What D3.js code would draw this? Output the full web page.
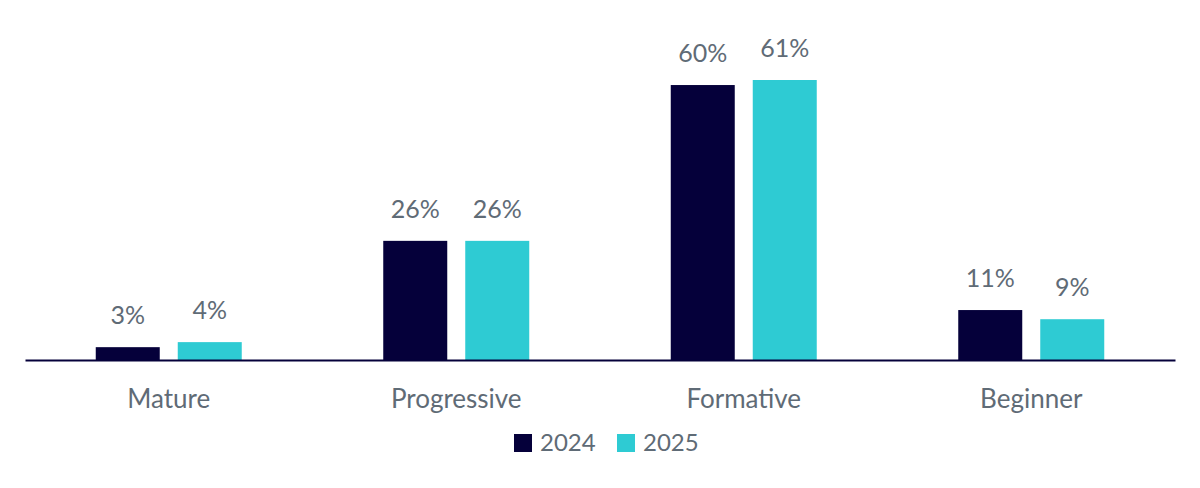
<!DOCTYPE html>
<html>
<head>
<meta charset="utf-8">
<script src="https://cdn.jsdelivr.net/npm/d3@7"></script>
<style>
	body { margin: 0; background: #fff; }
	svg text { font-family: Lato, "Open Sans", sans-serif; fill: #5f6b76; }
</style>
</head>
<body>
<svg id="chart" width="1200" height="488"></svg>
<script>
var categories = ['Mature', 'Progressive', 'Formative', 'Beginner'];
var seriesNames = ['2024', '2025'];
var values2024 = [2.8, 26, 60, 10.9];
var values2025 = [3.9, 26, 61.1, 8.9];
var seriesColors = ['#05003a', '#2ecbd3'];

var svg = d3.select('#chart');
var baseline = 360;

var x = d3.scaleBand()
	.domain(categories)
	.range([25, 1175]);

// pair of bars, 64px wide with an 18px gap
var xInner = d3.scaleBand()
	.domain(seriesNames)
	.range([0, 146])
	.paddingInner(18 / 82);

var y = d3.scaleLinear()
	.domain([0, 61.1])
	.range([baseline, 80]);

var rows = [];
categories.forEach(function (c, i) {
	rows.push({cat: c, series: '2024', value: values2024[i], color: seriesColors[0]});
	rows.push({cat: c, series: '2025', value: values2025[i], color: seriesColors[1]});
});

var groupOffset = (x.bandwidth() - 146) / 2;

svg.append('g')
	.selectAll('rect')
	.data(rows)
	.enter().append('rect')
	.attr('x', function (d) { return x(d.cat) + groupOffset + xInner(d.series); })
	.attr('y', function (d) { return y(d.value); })
	.attr('width', xInner.bandwidth())
	.attr('height', function (d) { return baseline - y(d.value); })
	.attr('fill', function (d) { return d.color; });

svg.append('g')
	.selectAll('text')
	.data(rows)
	.enter().append('text')
	.attr('x', function (d) { return x(d.cat) + groupOffset + xInner(d.series) + xInner.bandwidth() / 2; })
	.attr('y', function (d) { return y(d.value) - 23; })
	.attr('text-anchor', 'middle')
	.attr('font-size', 25)
	.text(function (d) { return Math.round(d.value) + '%'; });

// x axis
var xAxis = svg.append('g')
	.attr('transform', 'translate(0,' + baseline + ')')
	.call(d3.axisBottom(x).tickSize(0).tickPadding(0));
xAxis.select('.domain')
	.attr('stroke', '#05003a')
	.attr('stroke-width', 2);
xAxis.selectAll('.tick text')
	.attr('dy', 0)
	.attr('y', 48)
	.attr('font-size', 26)
	.style('font-family', 'Lato, "Open Sans", sans-serif')
	.attr('fill', '#5f6b76');

// legend
var legend = svg.append('g').attr('transform', 'translate(514,434)');
var legendX = [0, 103];
seriesNames.forEach(function (name, i) {
	var g = legend.append('g').attr('transform', 'translate(' + legendX[i] + ',0)');
	g.append('rect')
		.attr('width', 18)
		.attr('height', 18)
		.attr('fill', seriesColors[i]);
	g.append('text')
		.attr('x', 26)
		.attr('y', 17)
		.attr('font-size', 24)
		.text(name);
});
</script>
</body>
</html>
